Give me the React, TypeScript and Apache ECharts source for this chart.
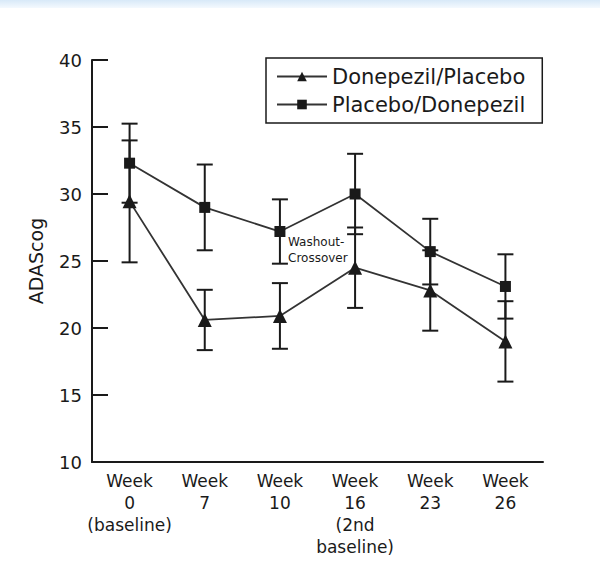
import React, { useEffect, useRef } from "react";
import * as echarts from "echarts";

const categories = [
  "Week\n0\n(baseline)",
  "Week\n7",
  "Week\n10",
  "Week\n16\n(2nd\nbaseline)",
  "Week\n23",
  "Week\n26",
];
const donepezilPlaceboMean = [29.45, 20.6, 20.9, 24.5, 22.8, 19.0];
const donepezilPlaceboErr = [4.55, 2.25, 2.45, 3.0, 3.0, 3.0];
const placeboDonepezilMean = [32.3, 29.0, 27.2, 30.0, 25.7, 23.1];
const placeboDonepezilErr = [2.95, 3.2, 2.4, 3.0, 2.45, 2.4];
const yTicks = [10, 15, 20, 25, 30, 35, 40];

const FONT = "DejaVu Sans";
const INK = "#1a1a1a";

function errorSeries(mean: number[], err: number[]) {
  return {
    type: "custom",
    z: 3,
    silent: true,
    data: mean.map((m, i) => [i, m - err[i], m + err[i]]),
    renderItem: (params: any, api: any) => {
      const x = api.value(0);
      const lo = api.coord([x, api.value(1)]);
      const hi = api.coord([x, api.value(2)]);
      const half = 8;
      const style = { stroke: INK, lineWidth: 2 };
      return {
        type: "group",
        children: [
          { type: "line", shape: { x1: lo[0], y1: lo[1], x2: hi[0], y2: hi[1] }, style },
          { type: "line", shape: { x1: lo[0] - half, y1: lo[1], x2: lo[0] + half, y2: lo[1] }, style },
          { type: "line", shape: { x1: hi[0] - half, y1: hi[1], x2: hi[0] + half, y2: hi[1] }, style },
        ],
      };
    },
  };
}

export default function App() {
  const ref = useRef<HTMLDivElement>(null);
  useEffect(() => {
    if (!ref.current) return;
    const chart = echarts.init(ref.current, undefined, { renderer: "svg" });
    chart.setOption({
      animation: false,
      backgroundColor: "#ffffff",
      textStyle: { fontFamily: FONT, color: INK },
      grid: { left: 92, right: 57, top: 60, bottom: 120 },
      legend: {
        orient: "vertical",
        left: 266,
        top: 58,
        padding: [8, 17, 8, 10],
        itemGap: 7,
        itemWidth: 50,
        itemHeight: 12,
        borderColor: INK,
        borderWidth: 1.5,
        textStyle: { fontFamily: FONT, fontSize: 21, color: INK, lineHeight: 21 },
        data: ["Donepezil/Placebo", "Placebo/Donepezil"],
      },
      xAxis: {
        type: "category",
        data: categories,
        boundaryGap: true,
        axisLine: { lineStyle: { color: INK, width: 2 } },
        axisTick: { inside: true, length: 14, lineStyle: { color: INK, width: 2 } },
        axisLabel: {
          color: INK,
          fontFamily: FONT,
          fontSize: 17,
          lineHeight: 22,
          margin: 8,
          interval: 0,
        },
        splitLine: { show: false },
      },
      yAxis: {
        type: "value",
        min: yTicks[0],
        max: yTicks[yTicks.length - 1],
        interval: 5,
        name: "ADAScog",
        nameLocation: "middle",
        nameGap: 47,
        nameTextStyle: { fontFamily: FONT, fontSize: 19, color: INK },
        axisLine: { show: true, lineStyle: { color: INK, width: 2 } },
        axisTick: { show: true, inside: true, length: 16, lineStyle: { color: INK, width: 2 } },
        axisLabel: { color: INK, fontFamily: FONT, fontSize: 18, margin: 10 },
        splitLine: { show: false },
      },
      graphic: [
        {
          type: "rect",
          left: 0,
          top: 0,
          shape: { width: 600, height: 8 },
          style: {
            fill: new echarts.graphic.LinearGradient(0, 0, 0, 1, [
              { offset: 0, color: "#d8e9f8" },
              { offset: 1, color: "#f4f9fe" },
            ]),
          },
          silent: true,
        },
        {
          type: "text",
          left: 288,
          top: 234,
          style: {
            text: "Washout-\nCrossover",
            fontFamily: FONT,
            fontSize: 12,
            lineHeight: 16,
            fill: INK,
          },
          z: 10,
        },
      ],
      series: [
        errorSeries(donepezilPlaceboMean, donepezilPlaceboErr),
        errorSeries(placeboDonepezilMean, placeboDonepezilErr),
        {
          name: "Donepezil/Placebo",
          type: "line",
          data: donepezilPlaceboMean,
          symbol: "triangle",
          symbolSize: 14,
          z: 4,
          itemStyle: { color: INK },
          lineStyle: { color: "#333", width: 1.8 },
        },
        {
          name: "Placebo/Donepezil",
          type: "line",
          data: placeboDonepezilMean,
          symbol: "rect",
          symbolSize: 11,
          z: 4,
          itemStyle: { color: INK },
          lineStyle: { color: "#333", width: 1.8 },
        },
      ],
    });
    return () => chart.dispose();
  }, []);
  return <div ref={ref} style={{ width: 600, height: 582, position: "absolute", left: 0, top: 0 }} />;
}
